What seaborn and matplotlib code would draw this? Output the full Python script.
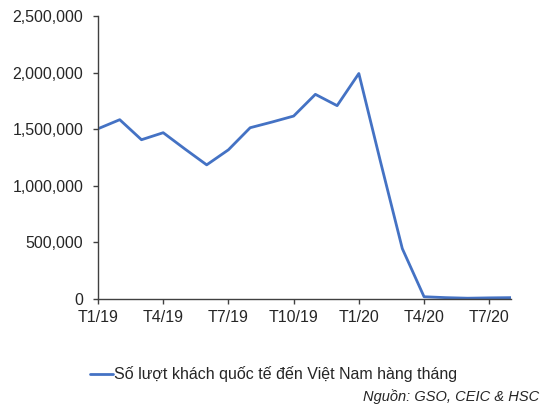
import matplotlib
matplotlib.use("Agg")
import matplotlib.pyplot as plt
import seaborn as sns
import pandas as pd
from matplotlib.ticker import FuncFormatter

months = ["T1/19", "T2/19", "T3/19", "T4/19", "T5/19", "T6/19", "T7/19", "T8/19",
          "T9/19", "T10/19", "T11/19", "T12/19", "T1/20", "T2/20", "T3/20", "T4/20",
          "T5/20", "T6/20", "T7/20", "T8/20"]
visitors = [1504000, 1584000, 1407000, 1469000, 1325000, 1185000, 1318000, 1513000,
            1563000, 1616000, 1808000, 1708000, 1992000, 1210000, 445000, 20000,
            12000, 7000, 10000, 12000]
tick_labels = ["T1/19", "T4/19", "T7/19", "T10/19", "T1/20", "T4/20", "T7/20"]
series_name = "Số lượt khách quốc tế đến Việt Nam hàng tháng"
source_text = "Nguồn: GSO, CEIC & HSC"

df = pd.DataFrame({"idx": range(len(months)), "month": months, "value": visitors})

sns.set_style("white")
plt.rcParams["font.family"] = ["Liberation Sans", "DejaVu Sans"]

fig = plt.figure(figsize=(5.59, 4.16), dpi=100)
ax = fig.add_axes([98/559, 1-299/416, (511-98)/559, (299-16)/416])

sns.lineplot(data=df, x="idx", y="value", ax=ax, color="#4472C4", linewidth=2.0,
             label=series_name, legend=False)

ax.set_xlim(0, len(months) - 1)
ax.set_ylim(0, 2500000)
ax.set_xticks([months.index(t) for t in tick_labels])
ax.set_xticklabels(tick_labels)
ax.set_yticks(range(0, 2500001, 500000))
ax.yaxis.set_major_formatter(FuncFormatter(lambda v, p: f"{int(v):,}"))
ax.set_xlabel("")
ax.set_ylabel("")
for s in ["top", "right"]:
    ax.spines[s].set_visible(False)
for s in ["left", "bottom"]:
    ax.spines[s].set_color("#404040")
    ax.spines[s].set_linewidth(1.0)
ax.tick_params(axis="both", which="major", labelsize=11.5, length=3.5, width=1,
               color="#404040", direction="out", bottom=True, left=True)
ax.tick_params(axis="x", pad=4.5)
ax.tick_params(axis="y", pad=7)

handles, labels = ax.get_legend_handles_labels()
fig.legend(handles, labels, loc="center", bbox_to_anchor=(273.5/559, 1-374.5/416),
           frameon=False, fontsize=11.5, handlelength=1.45, handletextpad=0.08)

fig.text(539/559, 1-397/416, source_text, ha="right", va="center",
         fontsize=10.5, style="italic")

fig.savefig("out.png", dpi=100)
